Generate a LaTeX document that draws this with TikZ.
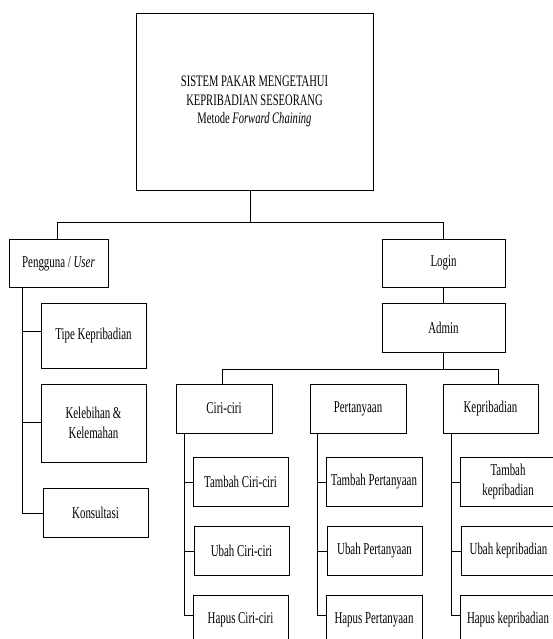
\documentclass[tikz,border=0pt]{standalone}
\usepackage{fontspec}
\setmainfont{Liberation Serif}[FakeStretch=0.66]
\begin{document}
\begin{tikzpicture}[x=1pt,y=-1pt,
  box/.style={draw, line width=0.8pt, align=center, inner sep=0pt,
    font=\fontsize{16.5}{20.5}\selectfont},
  conn/.style={line width=0.8pt}]
\useasboundingbox (0,0) rectangle (552,639);
% top
\node[box, minimum width=237pt, minimum height=177pt, font=\fontsize{16}{18.5}\selectfont] (top) at (254.5,101.5)
  {SISTEM PAKAR MENGETAHUI\\KEPRIBADIAN SESEORANG\\Metode \textit{Forward Chaining}};
% level 2
\node[box, minimum width=99pt, minimum height=48pt] (peng) at (58.5,263.5) {Pengguna / \textit{User}};
\node[box, minimum width=123pt, minimum height=48pt] (login) at (443.5,263) {Login};
\node[box, minimum width=123pt, minimum height=49pt] (admin) at (443.5,327.5) {Admin};
% user children
\node[box, minimum width=105pt, minimum height=65pt] (tipe) at (93.5,335.5) {Tipe Kepribadian};
\node[box, minimum width=105pt, minimum height=78pt] (kel) at (93.5,423) {Kelebihan \&\\Kelemahan};
\node[box, minimum width=105pt, minimum height=49pt] (kons) at (95.5,512.5) {Konsultasi};
% admin children
\node[box, minimum width=96pt, minimum height=49pt] (ciri) at (224,408.5) {Ciri-ciri};
\node[box, minimum width=96pt, minimum height=49pt] (pert) at (358,408.5) {Pertanyaan};
\node[box, minimum width=95pt, minimum height=49pt] (kep) at (490.5,408.5) {Kepribadian};
% ciri children
\node[box, minimum width=95pt, minimum height=49pt] (tc) at (240.5,481.5) {Tambah Ciri-ciri};
\node[box, minimum width=95pt, minimum height=49pt] (uc) at (241.5,550.5) {Ubah Ciri-ciri};
\node[box, minimum width=95pt, minimum height=49pt] (hc) at (240.5,619.5) {Hapus Ciri-ciri};
% pert children
\node[box, minimum width=96pt, minimum height=49pt] (tp) at (374,481.5) {Tambah Pertanyaan};
\node[box, minimum width=95pt, minimum height=49pt] (up) at (374.5,550.5) {Ubah Pertanyaan};
\node[box, minimum width=96pt, minimum height=49pt] (hp) at (374,619.5) {Hapus Pertanyaan};
% kep children
\node[box, minimum width=96pt, minimum height=49pt] (tk) at (508,481.5) {Tambah\\kepribadian};
\node[box, minimum width=95pt, minimum height=49pt] (uk) at (508.5,550.5) {Ubah kepribadian};
\node[box, minimum width=96pt, minimum height=49pt] (hk) at (508,619.5) {Hapus kepribadian};
% connectors top
\coordinate (j1) at (250,222);
\coordinate (jp) at (57,222);
\draw[conn] (top.south -| j1) -- (j1);
\draw[conn] (peng.north -| jp) -- (jp) -- (login.north |- jp) -- (login.north);
\draw[conn] (login.south) -- (admin.north);
% user side
\coordinate (u0) at (22,0);
\coordinate (u1) at (22,331);
\coordinate (u2) at (22,422);
\coordinate (u3) at (22,513);
\draw[conn] (peng.south -| u0) -- (u3) -- (u3 -| kons.west);
\draw[conn] (u1) -- (u1 -| tipe.west);
\draw[conn] (u2) -- (u2 -| kel.west);
% admin side
\coordinate (a1) at (222,369);
\coordinate (a2) at (498,369);
\draw[conn] (admin.south) -- (admin.south |- a1);
\draw[conn] (ciri.north -| a1) -- (a1) -- (a2) -- (kep.north -| a2);
% ciri children
\coordinate (c1) at (184,482);
\coordinate (c2) at (184,551);
\coordinate (c3) at (184,615);
\draw[conn] (ciri.south -| c1) -- (c3) -- (c3 -| hc.west);
\draw[conn] (c1) -- (c1 -| tc.west);
\draw[conn] (c2) -- (c2 -| uc.west);
% pert children
\coordinate (p1) at (317,482);
\coordinate (p2) at (317,551);
\coordinate (p3) at (317,615);
\draw[conn] (pert.south -| p1) -- (p3) -- (p3 -| hp.west);
\draw[conn] (p1) -- (p1 -| tp.west);
\draw[conn] (p2) -- (p2 -| up.west);
% kep children
\coordinate (k1) at (451,482);
\coordinate (k2) at (451,551);
\coordinate (k3) at (451,615);
\draw[conn] (kep.south -| k1) -- (k3) -- (k3 -| hk.west);
\draw[conn] (k1) -- (k1 -| tk.west);
\draw[conn] (k2) -- (k2 -| uk.west);
\end{tikzpicture}
\end{document}
